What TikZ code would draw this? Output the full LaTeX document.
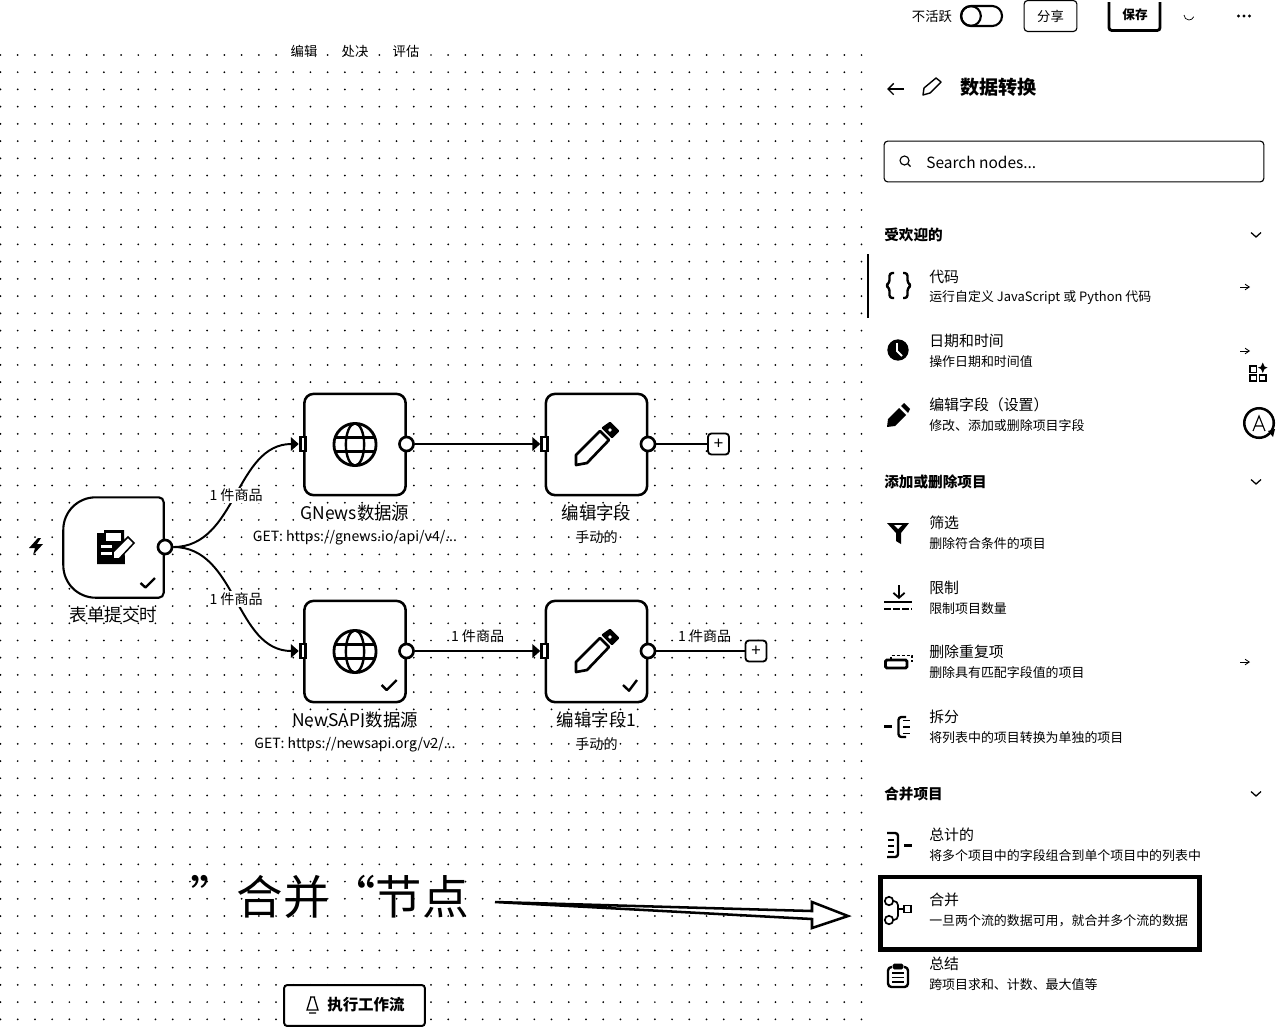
\documentclass[tikz,border=0pt]{standalone}
\usepackage{fontspec}
\setmainfont{Noto Sans CJK SC}
\usetikzlibrary{arrows.meta, positioning}
\newcommand{\fsize}[1]{\fontsize{#1}{#1}\selectfont}
\tikzset{
  nodebox/.style={draw, fill=white, line width=1.8pt, rounded corners=6.5pt,
    minimum size=72pt, inner sep=0pt},
  portout/.style={draw, fill=white, circle, line width=1.9pt, minimum size=10pt, inner sep=0pt},
  portin/.style={draw, fill=white, line width=2pt, minimum width=4pt, minimum height=10pt, inner sep=0pt},
  plusbox/.style={draw, fill=white, line width=1.3pt, rounded corners=2.5pt,
    minimum size=15pt, inner sep=0pt, font=\fsize{12}},
  wire/.style={line width=1.4pt},
  wirehead/.style={wire, -{Triangle[length=5.6pt,width=9.5pt]}},
  icon/.style={line width=1.7pt, line join=round},
  title/.style={font=\fsize{12.4}},
  subtitle/.style={font=\fsize{10}},
  count/.style={font=\fsize{10}, fill=white, inner sep=1pt},
  toptext/.style={font=\fsize{9.5}},
  sectionhead/.style={anchor=west, font=\fsize{10.4}\bfseries},
  itemtitle/.style={anchor=west, font=\fsize{10.6}},
  itemsub/.style={anchor=west, font=\fsize{9.2}},
  chevron/.style={line width=0.9pt},
  smallarrow/.style={line width=0.6pt, -{Straight Barb[length=3pt,width=4pt]}},
}
\begin{document}
\begin{tikzpicture}[x=0.025cm, y=-0.025cm]
  \useasboundingbox (0,0) rectangle (1280,1028);
  \clip (0,0) rectangle (1280,1028);
  \fill[white] (0,0) rectangle (1280,1028);
  % Canvas dots
  \foreach \i in {0,...,50}
    \foreach \j in {0,...,56}
      \fill ({0.5+17.22*\i},{55+17.22*\j}) circle (0.7pt);
  % Top menu
  \node[toptext] (menuedit) at (304,51) {编辑};
  \node[toptext] (menurun) at (355,51) {处决};
  \node[toptext] (menueval) at (406,51) {评估};
  % Trigger node
  \node[minimum size=71pt, inner sep=0pt] (form) at (113.5,547.5) {};
  \filldraw[fill=white, line width=1.5pt]
    (form.north) -- ([xshift=-3.5pt]form.north east) arc (90:0:3.5pt)
    -- ([yshift=3.5pt]form.south east) arc (0:-90:3.5pt)
    -- ([xshift=23pt]form.south west) arc (270:180:23pt)
    -- ([yshift=-23pt]form.north west) arc (180:90:23pt) -- cycle;
  \node[title, below=3pt of form] (formlabel) {表单提交时};
  \fill (38,538) -- (29,548) -- (35,548) -- (33,555) -- (43,544) -- (37,544) -- (41,538) -- cycle;
  % Form icon
  \fill (97,533) -- (104,533) -- (104,530) -- (124,530) -- (125,564) -- (97,564) -- cycle;
  \fill[white] (106,533) rectangle (121,541);
  \foreach \y in {545,552}
    \fill[white] (101,\y) rectangle (112,\y+2.5);
  \filldraw[fill=white, line width=1.1pt] (113,559) -- (113,552) -- (128,537) -- (134,543) -- (119,559) -- cycle;
  \draw[icon] (140.5,583) -- (145.5,587.5) -- (155,578);
  % Workflow boxes
  \node[nodebox] (gnews) at (355,444.5) {};
  \node[nodebox] (newsapi) at (355,651.5) {};
  \node[nodebox] (editone) at (596.5,444.5) {};
  \node[nodebox] (edittwo) at (596.5,651.5) {};
  \node[title, below=2.5pt of gnews] (gnewslabel) {GNews数据源};
  \node[subtitle, below=-0.5pt of gnewslabel] (gnewsurl) {GET: https://gnews.io/api/v4/...};
  \node[title, below=2.5pt of newsapi] (newsapilabel) {NewSAPI数据源};
  \node[subtitle, below=-0.5pt of newsapilabel] (newsapiurl) {GET: https://newsapi.org/v2/...};
  \node[title, below=2.5pt of editone] (editonelabel) {编辑字段};
  \node[subtitle, below=-0.5pt of editonelabel] (editonesub) {手动的};
  \node[title, below=2.5pt of edittwo] (edittwolabel) {编辑字段1};
  \node[subtitle, below=-0.5pt of edittwolabel] (edittwosub) {手动的};
  % Globe and pencil icons
  \foreach \c in {gnews,newsapi} {
    \draw[icon, line width=2pt] (\c) circle (15pt);
    \draw[icon] (\c) ellipse (6.5pt and 15pt);
    \draw[icon] ([xshift=-14pt,yshift=5pt]\c.center) -- ([xshift=14pt,yshift=5pt]\c.center);
    \draw[icon] ([xshift=-14pt,yshift=-5pt]\c.center) -- ([xshift=14pt,yshift=-5pt]\c.center);
  }
  \foreach \dy in {0,207} {
    \begin{scope}[yshift=-\dy*0.025cm]
      \draw[icon, line width=1.9pt] (576,465) -- (576,455) -- (600,431) -- (609,440) -- (587,463) -- cycle;
      \filldraw[icon] (603,428) -- (610,423) -- (618,431) -- (612,437) -- cycle;
      \fill[white] (610,430) circle (1.3pt);
    \end{scope}
  }
  \draw[icon] (381.7,685) -- (386.7,690) -- (396.7,680);
  \draw[icon] (623,685) -- (629,690.7) -- (637,680);
  % Ports
  \node[portout] (formout) at (165,547) {};
  \node[portout] (gnewsout) at (406.5,444) {};
  \node[portout] (newsapiout) at (406.5,651) {};
  \node[portout] (editoneout) at (648,444) {};
  \node[portout] (edittwoout) at (648,651) {};
  \node[portin] (gnewsin) at (303,444) {};
  \node[portin] (newsapiin) at (303,651) {};
  \node[portin] (editonein) at (544.5,444) {};
  \node[portin] (edittwoin) at (544.5,651) {};
  \node[plusbox] (plusone) at (718.5,444) {+};
  \node[plusbox] (plustwo) at (756,651) {+};
  % Connectors
  \draw[wirehead] (formout) to[out=0, in=180] node[count] (countone) {1 件商品} (gnewsin);
  \draw[wirehead] (formout) to[out=0, in=180] node[count] (counttwo) {1 件商品} (newsapiin);
  \draw[wirehead] (gnewsout) -- (editonein);
  \draw[wirehead] (newsapiout) -- node[count, fill=none, above=4pt] (countthree) {1 件商品} (edittwoin);
  \draw[wire] (editoneout) -- (plusone);
  \draw[wire] (edittwoout) -- node[count, fill=none, above=4pt, xshift=3pt] (countfour) {1 件商品} (plustwo);
  % Annotation
  \node[anchor=west, inner sep=0pt, font=\fsize{33}] (merge) at (190,897) {”合并“节点};
  \draw[fill=white, line width=1.8pt, line join=miter]
    (495,902) -- (812,911) -- (812,902) -- (848,916) -- (812,928) -- (812,919) -- cycle;
  % Run button
  \node[draw, fill=white, line width=1.4pt, rounded corners=2pt, minimum width=100pt,
        minimum height=29pt, inner sep=0pt] (runbtn) at (354.5,1005.5) {};
  \node[anchor=west, font=\fsize{11}\bfseries, inner sep=0pt] (runtext) at (327,1005) {执行工作流};
  \draw[line width=0.9pt] (310,997) -- (315,997) (311,997) -- (307,1010) -- (318,1010) -- (314,997) (309,1013) -- (316,1013);
  % Top bar
  \node[toptext] (status) at (932,16) {不活跃};
  \draw[line width=1.5pt, rounded corners=7pt] (961,6) rectangle (1002,26);
  \draw[line width=1.5pt] (971,16) circle (7pt);
  \node[draw, line width=0.8pt, rounded corners=2.5pt, minimum width=37.5pt, minimum height=22pt,
        inner sep=0pt, toptext] (share) at (1050.5,16) {分享};
  \draw[line width=2pt, rounded corners=2pt] (1109,2) -- (1109,30.5) -- (1160,30.5) -- (1160,2);
  \node[toptext, font=\fsize{9}\bfseries] (save) at (1135,15) {保存};
  \draw[line width=0.5pt] (1184,15) arc (180:20:5);
  \foreach \x in {1238.5,1244,1249.5}
    \fill (\x,16) circle (1.1pt);
  % Panel header
  \draw[line width=1pt, -{Straight Barb[length=4pt,width=8pt]}] (904,89) -- (887,89);
  \draw[line width=1pt, line join=round] (923,95) -- (924,88) -- (936,78) -- (941,82) -- (930,93) -- cycle;
  \node[anchor=west, font=\fsize{13.6}\bfseries, inner sep=0pt] (paneltitle) at (960,87) {数据转换};
  \node[draw, line width=0.8pt, rounded corners=2.5pt, minimum width=270pt, minimum height=29pt,
        inner sep=0pt] (searchbox) at (1074,161.5) {};
  \draw[line width=0.8pt] (904.5,160.5) circle (3.2pt) (908,164) -- (910.5,166.5);
  \node[anchor=west, font=\fsize{11}, inner sep=0pt] (searchtext) at (926,162) {Search nodes...};
  % Panel sections
  \foreach \n/\y/\t in {popular/235/受欢迎的,addremove/482/添加或删除项目,mergeitems/794/合并项目} {
    \node[sectionhead, inner sep=0pt] (\n) at (884,\y) {\t};
    \draw[chevron] (1251,\y-2.5) -- (1256,\y+2) -- (1261,\y-2.5);
  }
  \draw[line width=1.5pt] (868,254) -- (868,318);
  % Panel items
  \foreach \n/\y/\t/\s in {
    code/277/代码/运行自定义 JavaScript 或 Python 代码,
    datetime/341/日期和时间/操作日期和时间值,
    editfields/405/编辑字段（设置）/修改、添加或删除项目字段,
    filter/523/筛选/删除符合条件的项目,
    limit/588/限制/限制项目数量,
    dedup/652/删除重复项/删除具有匹配字段值的项目,
    split/717/拆分/将列表中的项目转换为单独的项目,
    aggregate/835/总计的/将多个项目中的字段组合到单个项目中的列表中,
    mergeitem/900/合并/一旦两个流的数据可用，就合并多个流的数据,
    summarize/964/总结/跨项目求和、计数、最大值等} {
    \node[itemtitle, inner sep=0pt] (\n) at (929,\y) {\t};
    \node[itemsub, inner sep=0pt] (\n sub) at (929,\y+20.5) {\s};
  }
  \draw[line width=3.2pt, line join=miter] (880.5,877) rectangle (1199.5,949.5);
  % Panel icons
  \draw[icon, rounded corners=2pt] (894,273) -- (889.5,273) -- (889.5,283) -- (885.5,285.5) -- (889.5,288) -- (889.5,298) -- (894,298);
  \draw[icon, rounded corners=2pt] (903,273) -- (907.5,273) -- (907.5,283) -- (911.5,285.5) -- (907.5,288) -- (907.5,298) -- (903,298);
  \fill (898,350) circle (7.6pt);
  \draw[white, line width=1.3pt] (897,343) -- (897,351) -- (902,356);
  \fill (887,427) -- (888,419) -- (899,408) -- (906,415) -- (895,426) -- cycle (901,406) -- (904,403) -- (910,409) -- (908,413) -- cycle;
  \fill (887,523) -- (909,523) -- (901,533) -- (901,544) -- (896,541) -- (896,533) -- cycle;
  \fill[white] (894,525) -- (902,525) -- (898,529) -- cycle;
  \draw[line width=1.3pt, -{Straight Barb[length=3.5pt,width=8pt]}] (899,585) -- (899,599);
  \draw[line width=1.8pt] (884,602) -- (912,602);
  \draw[line width=1.8pt, dash pattern=on 5pt off 1.5pt] (884,609) -- (912,609);
  \draw[line width=2pt, rounded corners=1pt] (885.5,660) rectangle (907,668);
  \draw[line width=1.1pt, dash pattern=on 2.2pt off 1.4pt] (891,660) -- (891,655.5) -- (912,655.5) -- (912,662);
  \draw[icon] (884,726.5) -- (892,726.5);
  \draw[icon, rounded corners=2pt] (906,717) -- (898.5,717) -- (898.5,737) -- (906,737);
  \draw[line width=1.2pt] (903,720.5) -- (910,720.5) (903,727) -- (910,727) (903,733.5) -- (910,733.5);
  \draw[icon, rounded corners=2pt] (887,833) -- (898,833) -- (898,857) -- (887,857);
  \draw[line width=1.2pt] (888,840) -- (894,840) (888,846) -- (894,846) (888,852) -- (894,852);
  \draw[icon] (904,845.5) -- (912,845.5);
  \draw[line width=1.2pt] (889,901) circle (3pt) (889,920) circle (3pt);
  \draw[line width=1.2pt] (904,905.5) rectangle (911,912.5);
  \draw[line width=1.2pt, rounded corners=3pt] (893,901) -- (898,901) -- (898,920) -- (893,920) (898,909) -- (904,909);
  \draw[icon, rounded corners=2.5pt] (888,967) rectangle (908,987);
  \fill[white] (892,962) rectangle (904,969);
  \filldraw[line width=0.6pt, rounded corners=1pt] (893,964) rectangle (903,969);
  \foreach \y in {973,977.5,982}
    \draw[line width=1pt] (892,\y) -- (904,\y);
  % Side icons
  \foreach \p/\q in {1240/287,1240/351,1240/662}
    \draw[smallarrow] (\p,\q) -- (\p+10,\q);
  \draw[line width=1pt] (1250,366) rectangle (1256.5,372.5) (1250,375) rectangle (1256.5,381) (1259.5,375) rectangle (1266,381);
  \fill (1262.7,362.5) -- (1264.5,366.5) -- (1267.5,367.5) -- (1264.5,369) -- (1262.7,373) -- (1261,369) -- (1258,367.5) -- (1261,366.5) -- cycle;
  \draw[line width=1.8pt] (1259,423) circle (10.5pt);
  \fill (1268,431) -- (1275,429) -- (1273,437) -- cycle;
  \draw[line width=0.8pt] (1253,431) -- (1259,416) -- (1265,431) (1255,426) -- (1263,426);
\end{tikzpicture}
\end{document}
